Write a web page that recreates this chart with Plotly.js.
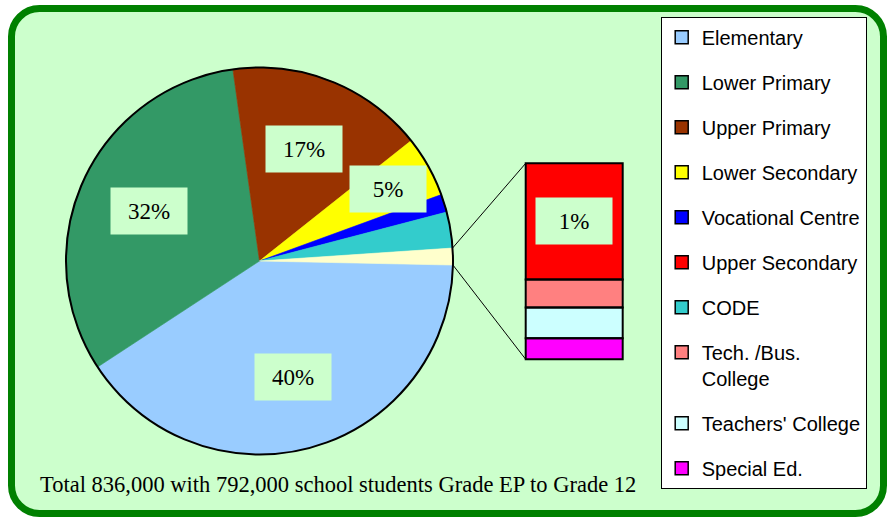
<!DOCTYPE html>
<html><head><meta charset="utf-8">
<script src="https://cdn.plot.ly/plotly-3.0.1.min.js"></script>
<style>html,body{margin:0;padding:0;background:#fff;} #chart{width:888px;height:518px;}</style>
</head><body><div id="chart"></div>
<script>
// ---- data (percent of total enrolment) ----
const pieLabels = ['Elementary', 'Lower Primary', 'Upper Primary', 'Lower Secondary', 'Vocational Centre', 'CODE'];
const pieValues = [40.4, 32.0, 16.5, 5.1, 1.5, 3.0];
const barLabels = ['Upper Secondary', 'Tech. /Bus. College', "Teachers' College", 'Special Ed.'];
const barValues = [0.83, 0.20, 0.22, 0.15];
const legendOrder = ['Elementary', 'Lower Primary', 'Upper Primary', 'Lower Secondary', 'Vocational Centre',
  'Upper Secondary', 'CODE', 'Tech. /Bus. College', "Teachers' College", 'Special Ed.'];
const legendText = ['Elementary', 'Lower Primary', 'Upper Primary', 'Lower Secondary', 'Vocational Centre',
  'Upper Secondary', 'CODE', 'Tech. /Bus.<br>College', "Teachers' College", 'Special Ed.'];
const otherLabel = 'Other';
const footnote = 'Total 836,000 with 792,000 school students Grade EP to Grade 12';

// ---- styles ----
const colorOf = {
  'Elementary': '#99CCFF', 'Lower Primary': '#339966', 'Upper Primary': '#993300',
  'Lower Secondary': '#FFFF00', 'Vocational Centre': '#0000FF', 'Upper Secondary': '#FF0000',
  'CODE': '#33CCCC', 'Tech. /Bus. College': '#FF8080', "Teachers' College": '#CCFFFF',
  'Special Ed.': '#FF00FF', 'Other': '#FFFFCC'
};
const W = 888, H = 518;
const cx = 259.5, cy = 261, R = 193.5, rot = 91.2;
const barBox = {x0: 525.7, x1: 622.7, y0: 163.3, y1: 359.3};
const padFrac = 0.1;
const bg = '#CCFFCC';
const serif = '"Liberation Serif", "Times New Roman", serif';
const sans = '"Liberation Sans", Arial, sans-serif';

const px = x => x / W, py = y => 1 - y / H;

const otherTotal = barValues.reduce((a, b) => a + b, 0);
const allPieLabels = pieLabels.concat([otherLabel]);
const allPieValues = pieValues.concat([otherTotal]);
const total = allPieValues.reduce((a, b) => a + b, 0);
const pieColors = allPieLabels.map(l => colorOf[l]);
const pieDomain = {x: [px(cx - R), px(cx + R)], y: [py(cy + R), py(cy - R)]};

const traces = [];
traces.push({
  type: 'pie', labels: allPieLabels, values: allPieValues, sort: false, direction: 'clockwise',
  rotation: rot, domain: pieDomain, textinfo: 'none', hoverinfo: 'skip', showlegend: false,
  marker: {colors: pieColors, line: {color: pieColors, width: 0.6}}
});
traces.push({
  type: 'pie', labels: ['outline'], values: [1], sort: false, rotation: rot, domain: pieDomain,
  textinfo: 'none', hoverinfo: 'skip', showlegend: false,
  marker: {colors: ['rgba(0,0,0,0)'], line: {color: '#000', width: 2}}
});
// bar of pie: stacked bottom-to-top from last label to first
const shapes = [];
let base = 0;
for (let i = barLabels.length - 1; i >= 0; i--) {
  traces.push({
    type: 'bar', x: [0], y: [barValues[i]], width: 1, name: barLabels[i], showlegend: false,
    hoverinfo: 'skip', marker: {color: colorOf[barLabels[i]], line: {color: '#000', width: 0}}
  });
  // segment outline on the bar's own axes
  shapes.push({
    type: 'rect', xref: 'x', yref: 'y', layer: 'above', x0: -0.5, x1: 0.5, y0: base, y1: base + barValues[i],
    fillcolor: 'rgba(0,0,0,0)', line: {color: '#000', width: 2}
  });
  base += barValues[i];
}
// legend entries
legendOrder.forEach((l, i) => {
  traces.push({
    type: 'scatter', mode: 'markers', x: [null], y: [null], name: legendText[i], legendgroup: 'g' + i,
    hoverinfo: 'skip',
    marker: {symbol: 'square', size: 13, color: colorOf[l], line: {color: '#000', width: 1.5}}
  });
});

// ---- annotations: percentage labels ----
const annotations = [];
let cum = 0;
pieValues.forEach((v, i) => {
  const pct = Math.round(v / total * 100);
  if (pct >= 5) {
    const a = (rot + (cum + v / 2) / total * 360) * Math.PI / 180;
    const f = pct >= 10 ? 0.625 : 0.76;
    annotations.push({
      xref: 'paper', yref: 'paper', x: px(cx + f * R * Math.sin(a)), y: py(cy - f * R * Math.cos(a)),
      xanchor: 'center', yanchor: 'middle',
      text: pct + '%', showarrow: false, bgcolor: bg, width: 76, height: 46, borderpad: 0,
      font: {family: serif, size: 23, color: '#000'}
    });
  }
  cum += v;
});
{
  const below = barValues.slice(1).reduce((a, b) => a + b, 0);
  annotations.push({
    xref: 'x', yref: 'y', x: 0, y: below + barValues[0] / 2, xanchor: 'center', yanchor: 'middle',
    text: Math.round(barValues[0] / total * 100) + '%', showarrow: false, bgcolor: bg,
    width: 76, height: 46, borderpad: 0, font: {family: serif, size: 23, color: '#000'}
  });
}
annotations.push({
  xref: 'paper', yref: 'paper', x: px(337.5), y: py(484), xanchor: 'center', yanchor: 'middle',
  text: footnote, showarrow: false,
  font: {family: serif, size: 22.5, color: '#000'}
});

// ---- shapes: frame and connectors ----
function roundRect(x0, y0, x1, y1, r) {
  const k = 0.5523 * r;
  const P = (x, y) => px(x) + ',' + py(y);
  return 'M' + P(x0 + r, y0) + ' L' + P(x1 - r, y0) +
    ' C' + P(x1 - r + k, y0) + ' ' + P(x1, y0 + r - k) + ' ' + P(x1, y0 + r) +
    ' L' + P(x1, y1 - r) +
    ' C' + P(x1, y1 - r + k) + ' ' + P(x1 - r + k, y1) + ' ' + P(x1 - r, y1) +
    ' L' + P(x0 + r, y1) +
    ' C' + P(x0 + r - k, y1) + ' ' + P(x0, y1 - r + k) + ' ' + P(x0, y1 - r) +
    ' L' + P(x0, y0 + r) +
    ' C' + P(x0, y0 + r - k) + ' ' + P(x0 + r - k, y0) + ' ' + P(x0 + r, y0) + ' Z';
}
shapes.unshift({
  type: 'path', xref: 'paper', yref: 'paper', layer: 'below', path: roundRect(11.5, 8.5, 883.5, 513.5, 28),
  fillcolor: bg, line: {color: '#008000', width: 7}
});
const sumPie = pieValues.reduce((a, b) => a + b, 0);
const aStart = (rot + sumPie / total * 360) * Math.PI / 180;
const aEnd = (rot + 360) * Math.PI / 180;
shapes.push({
  type: 'line', xref: 'paper', yref: 'paper', layer: 'above',
  x0: px(cx + R * Math.sin(aStart)), y0: py(cy - R * Math.cos(aStart)), x1: px(barBox.x0), y1: py(barBox.y0),
  line: {color: '#000', width: 1}
});
shapes.push({
  type: 'line', xref: 'paper', yref: 'paper', layer: 'above',
  x0: px(cx + R * Math.sin(aEnd)), y0: py(cy - R * Math.cos(aEnd)), x1: px(barBox.x0), y1: py(barBox.y1),
  line: {color: '#000', width: 1}
});

// bar axes: padded so outlines are not clipped
const padX = padFrac * (barBox.x1 - barBox.x0), padY = padFrac * (barBox.y1 - barBox.y0);
const layout = {
  width: W, height: H, margin: {l: 0, r: 0, t: 0, b: 0}, paper_bgcolor: '#fff', plot_bgcolor: 'rgba(0,0,0,0)',
  barmode: 'stack', bargap: 0,
  xaxis: {domain: [px(barBox.x0 - padX), px(barBox.x1 + padX)], range: [-0.5 - padFrac, 0.5 + padFrac],
    visible: false, fixedrange: true},
  yaxis: {domain: [py(barBox.y1 + padY), py(barBox.y0 - padY)],
    range: [-padFrac * otherTotal, (1 + padFrac) * otherTotal], visible: false, fixedrange: true},
  showlegend: true,
  legend: {
    x: px(660.7), y: py(16.7), xanchor: 'left', yanchor: 'top', bgcolor: '#fff', bordercolor: '#000',
    borderwidth: 1, font: {family: sans, size: 20, color: '#000'}, tracegroupgap: 16,
    traceorder: 'grouped', valign: 'top', itemwidth: 30
  },
  annotations: annotations, shapes: shapes
};
Plotly.newPlot('chart', traces, layout, {displayModeBar: false, staticPlot: true});
</script></body></html>
